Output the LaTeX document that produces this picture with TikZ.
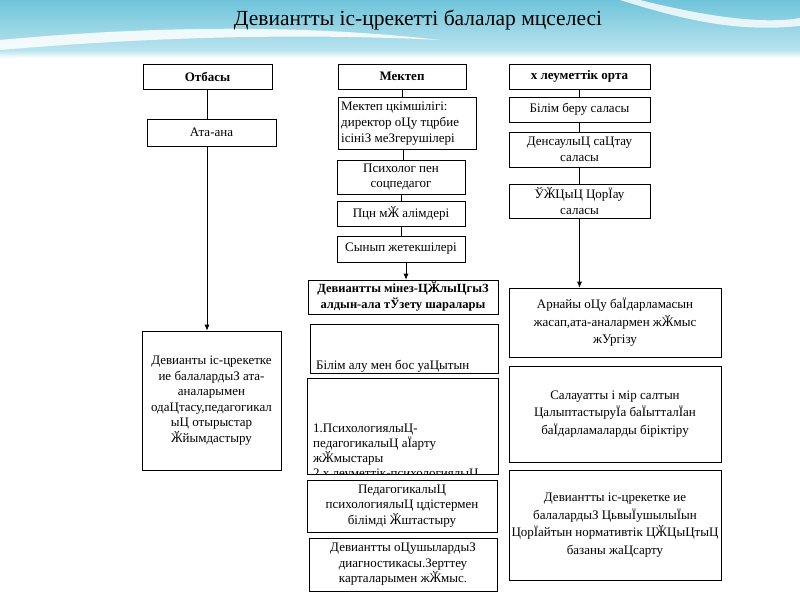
\documentclass[tikz,border=0pt]{standalone}
\usepackage{fontspec}
\setmainfont{Liberation Serif}
\usetikzlibrary{arrows.meta}
\definecolor{skyA}{HTML}{6FC4DA}
\definecolor{skyB}{HTML}{B8E3EE}
\tikzset{
  box/.style={draw, fill=white, line width=0.7pt, align=center, inner sep=1pt,
    font=\fontsize{13}{15.5}\selectfont},
  wide/.style={font=\fontsize{13}{17.5}\selectfont},
  hbox/.style={box, font=\fontsize{13}{15}\selectfont\bfseries},
  link/.style={line width=0.7pt},
  arr/.style={line width=0.7pt, -{Latex[length=6pt,width=5pt]}}
}
\begin{document}
\begin{tikzpicture}[x=1pt,y=-1pt]
\useasboundingbox (0,0) rectangle (800,600);
% background
\fill[white] (0,0) rectangle (800,600);
\shade[top color=skyA, bottom color=skyB] (0,0) rectangle (800,50);
\fill[white, opacity=0.85] (0,40) .. controls (150,26) and (300,24) .. (440,40)
  .. controls (300,33) and (150,37) .. (0,50) -- cycle;
\fill[white, opacity=0.8] (640,0) .. controls (700,15) and (760,25) .. (800,18)
  -- (800,26) .. controls (740,32) and (690,22) .. (620,0) -- cycle;
\shade[top color=skyB, bottom color=white] (0,50) rectangle (800,58);
\node[font=\fontsize{21.5}{24}\selectfont] (title) at (418,20) {Девиантты іс-црекетті балалар мцселесі};

% headers
\node[hbox, minimum width=129, minimum height=25] (otb) at (207.5,76.5) {Отбасы};
\node[hbox, minimum width=128, minimum height=25] (mek) at (402,76.5) {Мектеп};
\node[hbox, minimum width=141, minimum height=25] (ale) at (579.5,76.5) {х леуметтік орта};

% left column
\node[box, minimum width=129, minimum height=27] (ata) at (211.5,132.5) {Ата-ана};
\node[box, minimum width=139, minimum height=139] (lbig) at (211.5,400.5)
  {Девианты іс-црекетке\\ие балалардыЗ ата-\\аналарымен\\одаЦтасу,педагогикал\\ыЦ отырыстар\\Ӂйымдастыру};

% middle column
\node[box, minimum width=138, minimum height=52] (adm) at (407,123) {};
\node[anchor=west, align=left, font=\fontsize{13}{16}\selectfont, inner sep=0] at (341,124)
  {Мектеп цкімшілігі:\\директор оЦу тцрбие\\ісініЗ меЗгерушілері};
\node[box, minimum width=128, minimum height=34] (psy) at (401,177) {Психолог пен\\соцпедагог};
\node[box, minimum width=128, minimum height=25] (pan) at (401,213.5) {Пцн мӁ алімдері};
\node[box, minimum width=128, minimum height=26] (syn) at (401,249) {Сынып жетекшілері};
\node[hbox, minimum width=190, minimum height=34, font=\fontsize{12.5}{16}\selectfont\bfseries] (dev) at (403,297)
  {Девиантты мінез-ЦӁлыЦгыЗ\\алдын-ала тЎзету шаралары};
\node[box, minimum width=188, minimum height=49] (bil) at (404,348.5) {};
\begin{scope}
  \clip (bil.south west) rectangle (bil.north east);
  \node[anchor=base west, font=\fontsize{13}{15}\selectfont, inner sep=0] at (316,369) {Білім алу мен бос уаЦытын};
\end{scope}
\node[box, minimum width=191, minimum height=96] (psy2) at (402.5,426) {};
\begin{scope}
  \clip (psy2.south west) rectangle (psy2.north east);
  \node[anchor=north west, align=left, font=\fontsize{13}{15}\selectfont, inner sep=0] at (313,423.5)
    {1.ПсихологиялыЦ-\\педагогикалыЦ аЇарту\\жӁмыстары\\2.х леуметтік-психологиялыЦ};
\end{scope}
\node[box, minimum width=190, minimum height=52] (ped) at (402,506)
  {ПедагогикалыЦ\\психологиялыЦ цдістермен\\білімді Ӂштастыру};
\node[box, minimum width=188, minimum height=53] (diag) at (403,564.5)
  {Девиантты оЦушылардыЗ\\диагностикасы.Зерттеу\\карталарымен жӁмыс.};

% right column
\node[box, minimum width=141, minimum height=25] (bb) at (579.5,109.5) {Білім беру саласы};
\node[box, minimum width=141, minimum height=35] (den) at (579.5,149.5) {ДенсаулыЦ саЦтау\\саласы};
\node[box, minimum width=141, minimum height=34] (kuk) at (579.5,201) {ЎӁЦыЦ ЦорЇау\\саласы};
\node[box, wide, minimum width=212, minimum height=69] (arn) at (615,322.5)
  {Арнайы оЦу баЇдарламасын\\жасап,ата-аналармен жӁмыс\\жУргізу};
\node[box, wide, minimum width=212, minimum height=96] (sal) at (615,414)
  {Салауатты і мір салтын\\ЦалыптастыруЇа баЇытталЇан\\баЇдарламаларды біріктіру};
\node[box, wide, minimum width=212, minimum height=110] (nor) at (615,525)
  {Девиантты іс-црекетке ие\\балалардыЗ ЦьвыЇушылыЇын\\ЦорЇайтын нормативтік ЦӁЦыЦтыЦ\\базаны жаЦсарту};

% connectors
\draw[link] (otb.south) -- (otb.south |- ata.north);
\draw[arr] ([xshift=-4.5pt]ata.south) -- ([xshift=-4.5pt]ata.south |- lbig.north);
\draw[link] (mek.south) -- (mek.south |- adm.north);
\draw[link] ([xshift=-4pt]adm.south) -- ([xshift=-4pt]adm.south |- psy.north);
\draw[link] (psy.south) -- (pan.north);
\draw[link] (pan.south) -- (syn.north);
\draw[arr] ([xshift=5pt]syn.south) -- ([xshift=5pt]syn.south |- dev.north);
\draw[link] (ale.south) -- (bb.north);
\draw[link] (bb.south) -- (den.north);
\draw[link] (den.south) -- (kuk.north);
\draw[arr] (kuk.south) -- (kuk.south |- arn.north);
\end{tikzpicture}
\end{document}
